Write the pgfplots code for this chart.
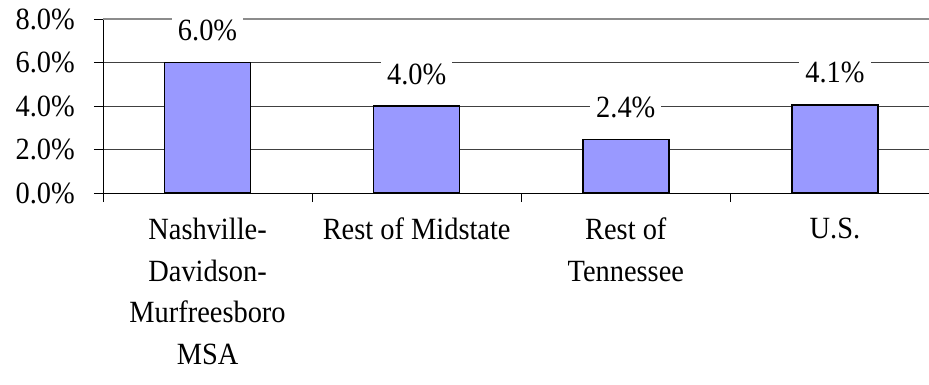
\documentclass[border=0pt]{standalone}
\usepackage{fontspec}
\setmainfont{Liberation Serif}[FakeStretch=0.92]
\usepackage{pgfplots}
\pgfplotsset{compat=1.18}
\definecolor{barblue}{HTML}{9999FF}
\begin{document}
\begin{tikzpicture}
\begin{axis}[
  at={(0,0)}, anchor=south west,
  scale only axis, width=826bp, height=174bp,
  xmin=-0.5, xmax=3.45, ymin=0, ymax=8,
  axis x line=bottom, axis y line=left,
  axis line style={-, black, line width=0.9bp},
  tick align=outside,
  major tick length=9bp,
  ytick={0,2,4,6},
  yticklabels={0.0\%,2.0\%,4.0\%,6.0\%},
  extra y ticks={8},
  extra y tick labels={8.0\%},
  extra y tick style={major grid style={draw=black!45, line width=1.6bp}},
  ymajorgrids,
  major grid style={draw=black!75, line width=0.8bp},
  ytick style={black, line width=0.8bp},
  xtick={0,1,2,3},
  xticklabels={{Nashville-\\Davidson-\\Murfreesboro\\MSA}, Rest of Midstate, {Rest of\\Tennessee}, U.S.},
  xtick style={draw=none},
  extra x ticks={-0.5,0.5,1.5,2.5},
  extra x tick labels={},
  extra x tick style={xtick style={draw=black, line width=0.8bp}, grid=none},
  tick label style={font=\fontsize{31}{41.7}\selectfont, inner sep=0pt},
  yticklabel style={anchor=east, xshift=-19bp},
  xticklabel style={anchor=north, align=center, yshift=-16bp},
  ybar, bar width=86bp,
  point meta=explicit symbolic,
  nodes near coords,
  nodes near coords style={anchor=base, yshift=22bp, fill=white, inner xsep=6bp, inner ysep=2bp, font=\fontsize{31}{34}\selectfont, text=black},
  clip=false,
]
\addplot[fill=barblue, draw=black, line width=1.5bp] coordinates {
  (0,6.0) [6.0\%]
  (1,4.0) [4.0\%]
  (2,2.45) [2.4\%]
  (3,4.05) [4.1\%]
};
\end{axis}
\pgfresetboundingbox
\useasboundingbox (-103bp,-192bp) rectangle (826bp,193bp);
\end{tikzpicture}
\end{document}
